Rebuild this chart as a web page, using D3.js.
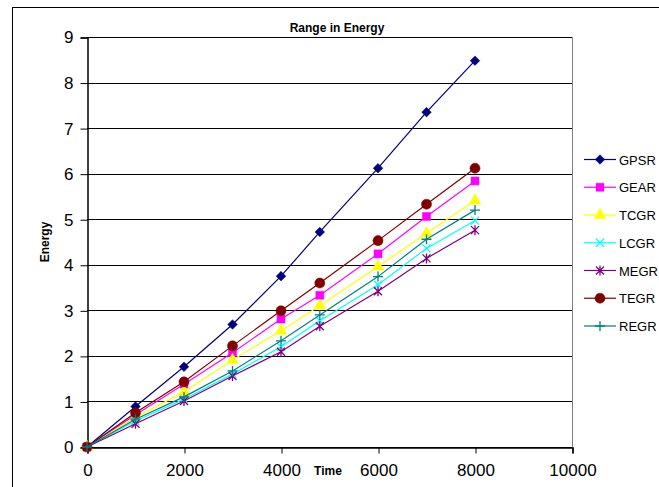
<!DOCTYPE html>
<html><head><meta charset="utf-8">
<script src="https://cdn.jsdelivr.net/npm/d3@7"></script>
<style>body{margin:0;background:#fff}svg{display:block}text{font-family:"Liberation Sans",Arial,sans-serif}</style>
</head><body>
<script>
const times = [0, 1000, 2000, 3000, 4000, 4800, 6000, 7000, 8000];
const seriesNames = ["GPSR", "GEAR", "TCGR", "LCGR", "MEGR", "TEGR", "REGR"];
const GPSR = [0, 0.89, 1.76, 2.69, 3.75, 4.72, 6.12, 7.35, 8.48];
const GEAR = [0, 0.71, 1.38, 2.07, 2.81, 3.33, 4.24, 5.06, 5.84];
const TCGR = [0, 0.65, 1.21, 1.91, 2.55, 3.10, 3.96, 4.69, 5.41];
const LCGR = [0, 0.57, 1.05, 1.60, 2.20, 2.77, 3.56, 4.36, 4.97];
const MEGR = [0, 0.51, 1.01, 1.56, 2.09, 2.65, 3.42, 4.14, 4.76];
const TEGR = [0, 0.75, 1.43, 2.22, 2.99, 3.60, 4.53, 5.33, 6.12];
const REGR = [0, 0.61, 1.10, 1.67, 2.33, 2.90, 3.74, 4.56, 5.20];
const xTicks = [0, 2000, 4000, 6000, 8000, 10000];
const yTicks = [0, 1, 2, 3, 4, 5, 6, 7, 8, 9];
const colors = ["#000080", "#FF00FF", "#FFFF00", "#00FFFF", "#800080", "#800000", "#008080"];
const markers = ["diamond", "square", "triangle", "x", "star", "circle", "plus"];
const values = [GPSR, GEAR, TCGR, LCGR, MEGR, TEGR, REGR];

const W = 659, H = 487;
const svg = d3.select("body").append("svg").attr("width", W).attr("height", H);
svg.append("rect").attr("x", 12.5).attr("y", 7.5).attr("width", 700).attr("height", 600)
  .attr("fill", "#fff").attr("stroke", "#000").attr("stroke-width", 1);

const L = 87, R = 572, T = 37, B = 447;
const x = d3.scaleLinear().domain([0, 10000]).range([L, R]);
const y = d3.scaleLinear().domain([0, 9]).range([B, T]);

// gridlines
svg.append("g").selectAll("line").data(yTicks).join("line")
  .attr("x1", L).attr("x2", R).attr("y1", d => Math.round(y(d)) + 0.5).attr("y2", d => Math.round(y(d)) + 0.5)
  .attr("stroke", "#000").attr("stroke-width", 1);
svg.append("line").attr("x1", R + 0.5).attr("x2", R + 0.5).attr("y1", T).attr("y2", B).attr("stroke", "#808080");

const xAxis = svg.append("g").attr("transform", `translate(0.5,${Math.round(B) + 0.5})`)
  .call(d3.axisBottom(x).tickValues(xTicks).tickSize(6).tickPadding(10).tickFormat(d3.format("d")));
const yAxis = svg.append("g").attr("transform", `translate(${L + 0.5},0.5)`)
  .call(d3.axisLeft(y).tickValues(yTicks).tickSize(7).tickPadding(7).tickFormat(d3.format("d")));
[xAxis, yAxis].forEach(a => {
  a.select(".domain").attr("stroke", "#000").attr("stroke-width", 1.5);
  a.selectAll(".tick line").attr("stroke", "#000");
  a.selectAll("text").attr("font-size", 17).attr("fill", "#000")
    .attr("font-family", '"Liberation Sans",Arial,sans-serif');
});

const sym = {
  square: d3.symbol().type(d3.symbolSquare).size(64),
  triangle: d3.symbol().type(d3.symbolTriangle).size(60),
  circle: d3.symbol().type(d3.symbolCircle).size(80),
};
function drawMarker(g, kind, color) {
  if (sym[kind]) {
    g.append("path").attr("d", sym[kind]()).attr("fill", color).attr("stroke", color).attr("stroke-width", 0.5);
  } else if (kind === "diamond") {
    g.append("path").attr("d", "M0,-4.8L4.8,0L0,4.8L-4.8,0Z").attr("fill", color).attr("stroke", color).attr("stroke-width", 0.5);
  } else if (kind === "x") {
    g.append("path").attr("d", "M-4,-4L4,4M-4,4L4,-4").attr("stroke", color).attr("stroke-width", 1.3).attr("fill", "none");
  } else if (kind === "star") {
    g.append("path").attr("d", "M-4,-4L4,4M-4,4L4,-4M0,-5L0,5").attr("stroke", color).attr("stroke-width", 1.3).attr("fill", "none");
  } else if (kind === "plus") {
    g.append("path").attr("d", "M-5,0L5,0M0,-5L0,5").attr("stroke", color).attr("stroke-width", 1.3).attr("fill", "none");
  }
}

const line = d3.line().x((d, i) => x(times[i])).y(d => y(d));
seriesNames.forEach((name, si) => {
  const g = svg.append("g");
  g.append("path").datum(values[si]).attr("d", line).attr("fill", "none")
    .attr("stroke", colors[si]).attr("stroke-width", 1.2);
  values[si].forEach((v, i) => {
    const mg = g.append("g").attr("transform", `translate(${x(times[i])},${y(v)})`);
    drawMarker(mg, markers[si], colors[si]);
  });
});

// title & axis titles
svg.append("text").attr("x", 337).attr("y", 32).attr("text-anchor", "middle")
  .attr("font-size", 12).attr("font-weight", "bold").text("Range in Energy");
svg.append("text").attr("x", 328).attr("y", 475).attr("text-anchor", "middle")
  .attr("font-size", 12).attr("font-weight", "bold").text("Time");
svg.append("text").attr("transform", "translate(49,242) rotate(-90)").attr("text-anchor", "middle")
  .attr("font-size", 12).attr("font-weight", "bold").text("Energy");

// legend
const lg = svg.append("g");
seriesNames.forEach((name, i) => {
  const ly = 159.5 + i * 27.75;
  const g = lg.append("g").attr("transform", `translate(0,${ly})`);
  g.append("line").attr("x1", 584).attr("x2", 616).attr("y1", 0).attr("y2", 0)
    .attr("stroke", colors[i]).attr("stroke-width", 1.2);
  const mg = g.append("g").attr("transform", "translate(600,0)");
  drawMarker(mg, markers[i], colors[i]);
  g.append("text").attr("x", 619).attr("y", 5).attr("font-size", 13).text(name);
});
</script>
</body></html>
